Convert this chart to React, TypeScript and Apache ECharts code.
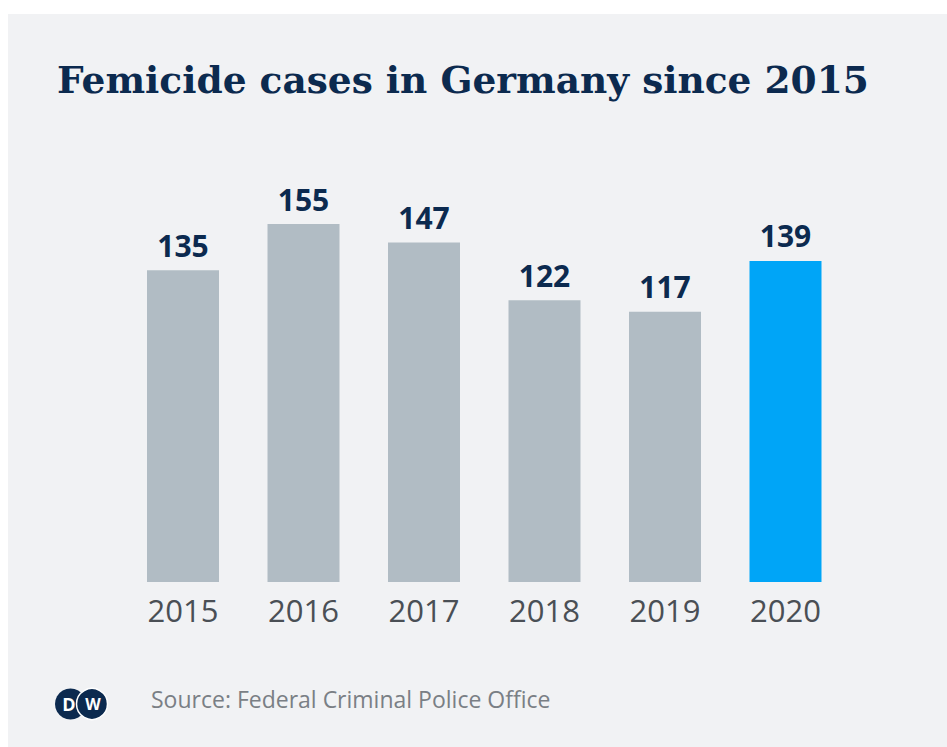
import React, { useEffect, useRef } from "react";
import * as echarts from "echarts";

const years = ["2015", "2016", "2017", "2018", "2019", "2020"];
const cases = [135, 155, 147, 122, 117, 139];
const highlightYear = "2020";
const titleText = "Femicide cases in Germany since 2015";
const sourceText = "Source: Federal Criminal Police Office";

export default function App() {
  const ref = useRef<HTMLDivElement>(null);
  useEffect(() => {
    if (!ref.current) return;
    const chart = echarts.init(ref.current, undefined, { renderer: "svg" });
    chart.setOption({
      animation: false,
      backgroundColor: "#ffffff",
      graphic: [
        {
          type: "rect",
          z: -10,
          shape: { x: 8, y: 14, width: 939, height: 733 },
          style: { fill: "#f1f2f4" },
          silent: true,
        },
        {
          type: "text",
          left: 57,
          top: 61,
          style: {
            text: titleText,
            font: "bold 37.5px 'DejaVu Serif'",
            fill: "#0c2a4f",
          },
        },
        {
          type: "text",
          left: 151,
          top: 687,
          style: {
            text: sourceText,
            font: "23px 'Open Sans'",
            fill: "#7a7f85",
          },
        },
        {
          type: "circle",
          shape: { cx: 70.5, cy: 704, r: 15.5 },
          style: { fill: "#0c2a4f" },
        },
        {
          type: "circle",
          shape: { cx: 92, cy: 704, r: 15.5 },
          style: { fill: "#0c2a4f", stroke: "#ffffff", lineWidth: 1.5 },
        },
        {
          type: "text",
          x: 69,
          y: 704,
          style: {
            text: "D",
            font: "bold 18px 'Open Sans'",
            fill: "#ffffff",
            align: "center",
            verticalAlign: "middle",
          },
        },
        {
          type: "text",
          x: 93,
          y: 704,
          style: {
            text: "W",
            font: "bold 16px 'Open Sans'",
            fill: "#ffffff",
            align: "center",
            verticalAlign: "middle",
          },
        },
      ],
      grid: { left: 122.75, right: 947 - 845.75, top: 224, bottom: 165, containLabel: false },
      xAxis: {
        type: "category",
        data: years,
        axisLine: { show: false },
        axisTick: { show: false },
        axisLabel: {
          color: "#4a4f55",
          fontFamily: "Open Sans",
          fontSize: 31,
          margin: 12,
        },
      },
      yAxis: {
        type: "value",
        min: 0,
        max: 155,
        show: false,
        splitLine: { show: false },
      },
      series: [
        {
          type: "bar",
          barWidth: 72,
          data: cases.map((v, i) => ({
            value: v,
            itemStyle: { color: years[i] === highlightYear ? "#00a5f7" : "#b1bcc4" },
          })),
          label: {
            show: true,
            position: "top",
            distance: 10,
            color: "#0c2a4f",
            fontFamily: "Open Sans",
            fontWeight: "bold",
            fontSize: 30,
          },
        },
      ],
    });
    return () => chart.dispose();
  }, []);
  return (
    <div
      ref={ref}
      style={{ position: "absolute", left: 0, top: 0, width: 947, height: 747 }}
    />
  );
}
